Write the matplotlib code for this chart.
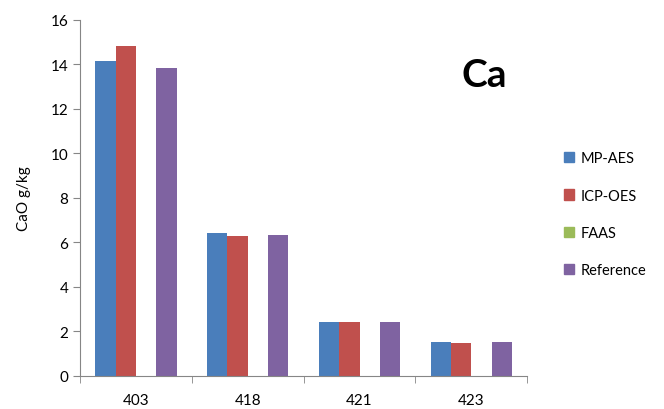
import numpy as np
import matplotlib.pyplot as plt
from matplotlib.patches import Patch

plt.rcParams['font.family'] = ['Lato', 'DejaVu Sans']

samples = ["403", "418", "421", "423"]
series = ["MP-AES", "ICP-OES", "FAAS", "Reference"]
mp_aes = [14.17, 6.41, 2.44, 1.51]
icp_oes = [14.85, 6.28, 2.44, 1.47]
faas = [0, 0, 0, 0]
reference = [13.83, 6.35, 2.44, 1.51]
values = [mp_aes, icp_oes, faas, reference]
colors = ["#4a7ebb", "#c0504d", "#9bbb59", "#7f63a1"]

fig = plt.figure(figsize=(6.64, 4.10), dpi=100)
ax = fig.add_axes([0.1205, 0.0805, 0.6735, 0.8683])

x = np.arange(len(samples))
width = 0.182
for i, (vals, col) in enumerate(zip(values, colors)):
    ax.bar(x + (i - 1.5) * width, vals, width, color=col, label=series[i])

ax.set_xlim(-0.5, len(samples) - 0.5)
ax.set_ylim(0, 16)
ax.set_yticks(np.arange(0, 17, 2))
ax.set_xticks(x)
ax.set_xticklabels(samples, fontsize=11)
ax.tick_params(axis='x', length=0, pad=12)
ax.set_xticks(np.arange(-0.5, len(samples)), minor=True)
ax.tick_params(axis='x', which='minor', length=5, color='#868686', direction='out')
ax.tick_params(axis='y', labelsize=11, length=5, color='#868686')

for s in ["top", "right"]:
    ax.spines[s].set_visible(False)
for s in ["left", "bottom"]:
    ax.spines[s].set_color('#868686')

ax.set_ylabel("CaO g/kg", fontsize=11)
ax.yaxis.set_label_coords(-0.11, 0.5)

ax.text(0.904, 0.848, "Ca", transform=ax.transAxes, fontsize=28,
        fontweight='bold', ha='center', va='center')

handles = [Patch(color=c) for c in colors]
fig.legend(handles, series, loc='center left', bbox_to_anchor=(0.83, 0.475),
           frameon=False, fontsize=10.5, handlelength=0.7, handleheight=0.7,
           handletextpad=0.4, labelspacing=1.6)

fig.savefig("out.png", dpi=100)
